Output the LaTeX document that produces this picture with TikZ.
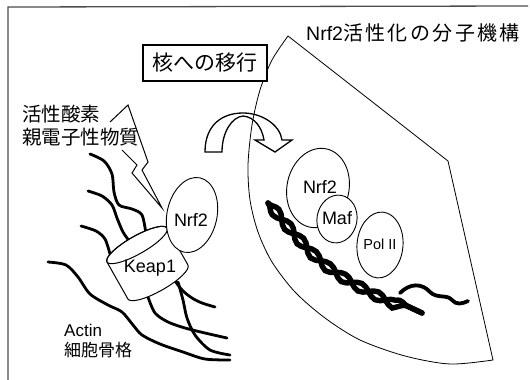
\documentclass[tikz,border=0pt]{standalone}
\usepackage{fontspec}
\setmainfont{Liberation Sans}
\newfontfamily\jp{Noto Sans CJK JP}
\newfontfamily\jpwide[LetterSpace=12]{Noto Sans CJK JP}
\usetikzlibrary{decorations.pathmorphing,shapes.geometric}

\begin{document}
\begin{tikzpicture}[x=1pt,y=-1pt,
  fiber/.style={line width=2.8pt, line cap=round, line join=round},
  outline/.style={line width=0.8pt},
  cell/.style={draw, ellipse, line width=0.9pt, fill=white, inner sep=0pt},
  lbl/.style={inner sep=0pt, font=\fontsize{18}{20}\selectfont},
  jplbl/.style={inner sep=0pt, anchor=west, font=\jp\fontsize{19.5}{22}\selectfont},
  strand/.style={line width=5.4pt, line cap=round, decorate,
    decoration={snake, segment length=38pt, amplitude=4.3pt}},
]
\useasboundingbox (0,0) rectangle (530,380);

% frame
\draw[line width=1.3pt, black!70] (8,380) -- (8,7) -- (528,6);

% actin fibres
\draw[fiber] plot[smooth] coordinates {(90,154) (104,161) (112,174) (114,192) (119,205) (132,209) (142,215) (146,234)};
\draw[fiber] plot[smooth] coordinates {(88,191) (102,196) (112,205) (117,218) (123,232) (130,242)};
\draw[fiber] plot[smooth] coordinates {(81,226) (96,231) (105,239) (110,254)};
\draw[fiber] plot[smooth] coordinates {(48,262) (66,265) (78,277) (90,294) (108,305) (122,312) (133,325) (142,335) (160,344) (183,352) (205,359) (230,360)};
\draw[fiber] plot[smooth] coordinates {(148,297) (155,313) (168,322) (185,328) (205,333) (227,338)};
\draw[fiber] plot[smooth] coordinates {(173,278) (182,290) (192,298) (202,303) (215,307)};
\draw[fiber] plot[smooth] coordinates {(178,282) (183,300) (187,318) (195,335) (210,350) (230,355)};

% Keap1 cylinder
\begin{scope}[shift={(137,245)}, rotate=29.5]
  \draw[line width=1pt, fill=white] (-34.5,0) -- (-34.5,42.5)
    arc[start angle=180, end angle=360, x radius=34.5pt, y radius=9pt]
    -- (34.5,0)
    arc[start angle=0, end angle=180, x radius=34.5pt, y radius=9pt] -- cycle;
  \draw[line width=1pt] (0,0) ellipse [x radius=34.5pt, y radius=9pt];
\end{scope}
\node[lbl] (keap1) at (150,268) {Keap1};

% cytoplasmic Nrf2
\node[cell, minimum width=50pt, minimum height=76pt, rotate=-12] (nrfc) at (192,215) {};
\node[lbl] (nrfct) at (191,220) {Nrf2};

% lightning bolt
\draw[line width=1pt, line join=miter] (122,150) -- (137,165) -- (132,173) -- (162,208)
  -- (142,170) -- (148,162) -- (128,105) -- (110,122);

% curved arrow into the nucleus
\draw[line width=1.3pt, fill=white, line join=miter]
  (205,152) .. controls (205,125) and (222,113) .. (243,113)
  .. controls (262,113) and (280,125) .. (282,140)
  -- (292,140) -- (275,152) -- (255,140) -- (264,140)
  .. controls (262,128) and (255,117) .. (243,116)
  .. controls (232,117) and (222,132) .. (222,152) -- cycle;

% nucleus outline
\draw[outline] plot[smooth] coordinates {(288,36) (272,60) (260,90) (252,125) (248,165) (250,200) (258,232) (272,262) (295,292) (325,318) (360,340) (405,356) (450,364) (493,360)}
  -- (448,161) -- cycle;

% translocation box
\node[draw, line width=2pt, fill=white, minimum width=124pt, minimum height=36pt, inner sep=0pt,
  font=\jp\fontsize{21}{24}\selectfont] (move) at (205,63) {核への移行};

% title
\node[inner sep=0pt, anchor=west] (title) at (306,33)
  {\fontsize{19.5}{22}\selectfont Nrf2\jpwide\fontsize{20}{22}\selectfont 活性化の分子機構};

% stimuli and actin labels
\node[jplbl] (ros) at (22,114) {活性酸素};
\node[jplbl] (elec) at (22,137) {親電子性物質};
\node[inner sep=0pt, anchor=west, font=\fontsize{17}{20}\selectfont] (actin) at (64,330) {Actin};
\node[inner sep=0pt, anchor=west, font=\jp\fontsize{17}{20}\selectfont] (cyto) at (64,350) {細胞骨格};

% DNA double helix with a single-stranded tail
\draw[strand] (268,203) .. controls (320,265) .. (422,313);
\draw[strand, decoration={mirror}] (268,203) .. controls (320,265) .. (422,313);
\draw[line width=3.8pt, line cap=round] (400,293) .. controls (410,283) and (422,283) .. (430,292)
  .. controls (437,299) and (447,294) .. (452,300) .. controls (456,305) and (462,304) .. (468,301);

% nuclear complex
\node[cell, minimum width=62pt, minimum height=80pt, rotate=-12] (nrfn) at (318,188) {};
\node[lbl] (nrfnt) at (320,187) {Nrf2};
\node[cell, minimum width=40pt, minimum height=48pt, rotate=-10] (maf) at (337,219) {};
\node[lbl] (maft) at (337,218) {Maf};
\node[cell, minimum width=46pt, minimum height=66pt, rotate=-5] (pol) at (380,245) {};
\node[inner sep=0pt, font=\fontsize{14.5}{16}\selectfont] (polt) at (380,244) {Pol II};
\end{tikzpicture}
\end{document}
